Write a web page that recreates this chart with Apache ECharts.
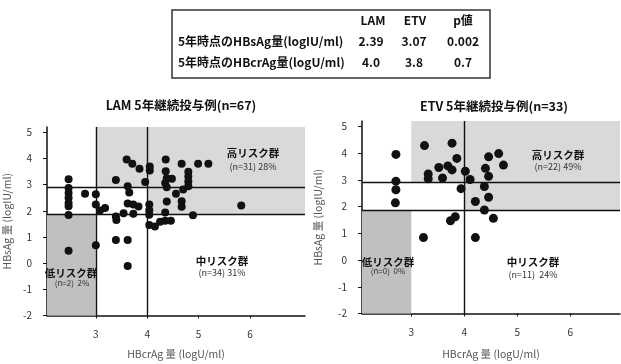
<!DOCTYPE html>
<html><head><meta charset="utf-8">
<script src="https://cdn.jsdelivr.net/npm/echarts@6/dist/echarts.min.js"></script>
<style>html,body{margin:0;padding:0;background:#fff}#c{width:621px;height:364px}</style>
</head><body><div id="c"></div>
<script>
// ---- data ----
const tableHeader = ['LAM', 'ETV', 'p値'];
const tableRowLabels = ['5年時点のHBsAg量(logIU/ml)', '5年時点のHBcrAg量(logU/ml)'];
const lamValues = ['2.39', '4.0'];
const etvValues = ['3.07', '3.8'];
const pValues = ['0.002', '0.7'];

const chartTitles = ['LAM 5年継続投与例(n=67)', 'ETV 5年継続投与例(n=33)'];
const xAxisName = 'HBcrAg 量 (logU/ml)';
const yAxisName = 'HBsAg 量 (logIU/ml)';
const xTicks = [3, 4, 5, 6];
const yTicks = [-2, -1, 0, 1, 2, 3, 4, 5];
const hbcrCut = [3, 4];       // HBcrAg thresholds
const hbsCut = [2.9, 1.87];   // HBsAg thresholds (as drawn)

// LAM: HBcrAg (x) and HBsAg (y)
const lamHBcrAg = [2.47,2.47,2.47,2.47,2.47,2.47,2.47,2.47,
  2.79,3.0,3.0,3.18,3.08,3.0,
  3.39,3.6,3.71,3.85,3.96,3.62,3.65,
  3.62,3.73,3.83,4.05,4.05,4.04,4.04,4.04,
  3.39,3.4,3.54,3.73,3.39,3.62,3.62,
  4.04,4.15,4.25,4.35,4.46,4.35,4.67,4.89,
  4.36,4.36,4.38,4.48,4.35,4.38,4.38,
  4.67,4.8,4.8,4.8,4.8,4.7,4.56,4.67,
  4.99,5.19,5.83];
const lamHBsAg = [3.2,2.87,2.68,2.5,2.3,2.17,1.84,0.47,
  2.65,2.63,2.24,2.11,2.01,0.68,
  3.18,3.96,3.8,3.61,3.1,2.94,2.7,
  2.28,2.24,2.16,3.69,3.54,2.24,2.02,1.85,
  1.78,1.65,1.91,1.89,0.88,0.88,-0.11,
  1.46,1.4,1.58,1.62,1.62,1.93,2.15,1.83,
  3.96,3.51,3.24,3.22,3.06,2.9,2.35,
  3.8,3.49,3.31,3.12,2.94,2.81,2.65,2.36,
  3.8,3.8,2.2];

// ETV
const etvHBcrAg = [2.71,2.71,2.71,2.7,3.25,3.77,3.86,3.32,3.32,3.52,3.69,3.77,3.59,
  4.02,4.11,3.94,4.46,4.65,4.74,4.4,4.46,4.38,4.46,4.21,4.38,4.55,3.74,3.83,3.23,4.21];
const etvHBsAg = [3.95,2.95,2.63,2.14,4.28,4.37,3.8,3.22,3.04,3.46,3.52,3.37,3.07,
  3.32,3.01,2.67,3.86,3.98,3.55,3.43,3.13,2.75,2.35,2.19,1.87,1.56,1.47,1.62,0.84,0.84];

const riskLabels = ['高リスク群', '中リスク群', '低リスク群'];
const lamRiskCounts = ['(n=31) 28%', '(n=34) 31%', '(n=2)  2%'];
const etvRiskCounts = ['(n=22) 49%', '(n=11)  24%', '(n=0)  0%'];

// ---- layout ----
const FONT = '"Noto Sans CJK JP", "Liberation Sans", sans-serif';
const grids = [
  {left: 47, top: 127, width: 258, height: 195},
  {left: 362, top: 121, width: 258, height: 199}
];
const xRange = [[2.05, 7.07], [2.07, 6.94]];
const yRange = [[-2, 5.2], [-2, 5.2]];
const gHigh = '#d9d9d9', gLow = '#c0c0c0';

function zip(a, b) { return a.map((v, i) => [v, b[i]]); }

function axesFor(i) {
  const x = {
    type: 'value', gridIndex: i, min: xRange[i][0], max: xRange[i][1],
    name: xAxisName, nameLocation: 'middle', nameGap: i ? 35 : 33,
    nameTextStyle: {fontSize: 10.5, color: '#555', fontFamily: FONT},
    axisLine: {onZero: false, lineStyle: {color: '#111', width: 1.5}},
    axisTick: {show: true, length: 3, customValues: xTicks, lineStyle: {color: '#111'}},
    axisLabel: {customValues: xTicks, fontSize: 10, color: '#333', margin: 14, fontFamily: FONT},
    splitLine: {show: false}
  };
  const y = {
    type: 'value', gridIndex: i, min: yRange[i][0], max: yRange[i][1],
    name: yAxisName, nameLocation: 'middle', nameGap: i ? 39 : 35,
    nameTextStyle: {fontSize: 10.5, color: '#555', fontFamily: FONT},
    axisLine: {onZero: false, lineStyle: {color: '#111', width: 1.5}},
    axisTick: {show: true, length: 4, customValues: yTicks, lineStyle: {color: '#111'}},
    axisLabel: {customValues: yTicks, fontSize: 10, color: '#333', margin: 15, fontFamily: FONT},
    splitLine: {show: false}
  };
  return [x, y];
}

function seriesFor(i, xs, ys, size, vLines) {
  const xr = xRange[i], yr = yRange[i];
  return [
    {
      type: 'scatter', xAxisIndex: i, yAxisIndex: i, data: [], z: 1, silent: true,
      markArea: {
        silent: true,
        data: [
          [{xAxis: hbcrCut[0], yAxis: hbsCut[0], itemStyle: {color: gHigh}}, {xAxis: xr[1], yAxis: yr[1]}],
          [{xAxis: hbcrCut[1], yAxis: hbsCut[1], itemStyle: {color: gHigh}}, {xAxis: xr[1], yAxis: hbsCut[0]}],
          [{xAxis: xr[0], yAxis: yr[0], itemStyle: {color: gLow}}, {xAxis: hbcrCut[0], yAxis: hbsCut[1]}]
        ]
      }
    },
    {
      type: 'scatter', xAxisIndex: i, yAxisIndex: i, data: [], z: 2, silent: true,
      markLine: {
        silent: true, symbol: 'none', label: {show: false},
        lineStyle: {color: '#111', width: 1.4, type: 'solid'},
        data: [{yAxis: hbsCut[0]}, {yAxis: hbsCut[1]}].concat(vLines.map(v => ({xAxis: v})))
      }
    },
    {
      type: 'scatter', xAxisIndex: i, yAxisIndex: i, z: 3, symbolSize: size,
      itemStyle: {color: '#111', opacity: 1}, data: zip(xs, ys)
    }
  ];
}

const la = axesFor(0), ra = axesFor(1);

function txt(x, y, s, size, bold, color, align) {
  return {type: 'text', x: x, y: y, z: 100, style: {text: s, fontSize: size, fontWeight: bold ? 'bold' : 'normal',
    fill: color || '#111', fontFamily: FONT, align: align || 'center', verticalAlign: 'middle'}};
}

const graphics = [
  {type: 'rect', z: 100, shape: {x: 172, y: 10, width: 318, height: 68}, style: {fill: '#fff', stroke: '#333', lineWidth: 1.5}},
  txt(373, 20, tableHeader[0], 12, true), txt(415, 20, tableHeader[1], 12, true), txt(463, 20, tableHeader[2], 12, true),
  txt(178, 41, tableRowLabels[0], 12, true, '#111', 'left'),
  txt(178, 62, tableRowLabels[1], 12, true, '#111', 'left'),
  txt(371, 41, lamValues[0], 12, true), txt(414, 41, etvValues[0], 12, true), txt(463, 41, pValues[0], 12, true),
  txt(371, 62, lamValues[1], 12, true), txt(414, 62, etvValues[1], 12, true), txt(463, 62, pValues[1], 12, true),
  txt(181, 105, chartTitles[0], 12.5, true), txt(494, 106, chartTitles[1], 12.5, true),
  // LAM risk labels
  txt(253, 153, riskLabels[0], 10.5, true), txt(253, 167, lamRiskCounts[0], 9, false, '#333'),
  txt(222, 261, riskLabels[1], 10.5, true), txt(222, 273, lamRiskCounts[1], 9, false, '#333'),
  txt(71, 273, riskLabels[2], 10.5, true), txt(72, 283, lamRiskCounts[2], 8, false, '#333'),
  // ETV risk labels
  txt(558, 155, riskLabels[0], 10.5, true), txt(558, 167, etvRiskCounts[0], 9, false, '#333'),
  txt(533, 262, riskLabels[1], 10.5, true), txt(533, 275, etvRiskCounts[1], 9, false, '#333'),
  txt(388, 262, riskLabels[2], 10.5, true), txt(388, 271, etvRiskCounts[2], 8, false, '#333')
];

const chart = echarts.init(document.getElementById('c'), null, {renderer: 'canvas'});
chart.setOption({
  animation: false,
  backgroundColor: '#fff',
  textStyle: {fontFamily: FONT},
  grid: grids,
  xAxis: [la[0], ra[0]],
  yAxis: [la[1], ra[1]],
  series: seriesFor(0, lamHBcrAg, lamHBsAg, 8, [hbcrCut[0], hbcrCut[1]])
    .concat(seriesFor(1, etvHBcrAg, etvHBsAg, 9, [hbcrCut[1]])),
  graphic: {elements: graphics}
});
</script>
</body></html>
